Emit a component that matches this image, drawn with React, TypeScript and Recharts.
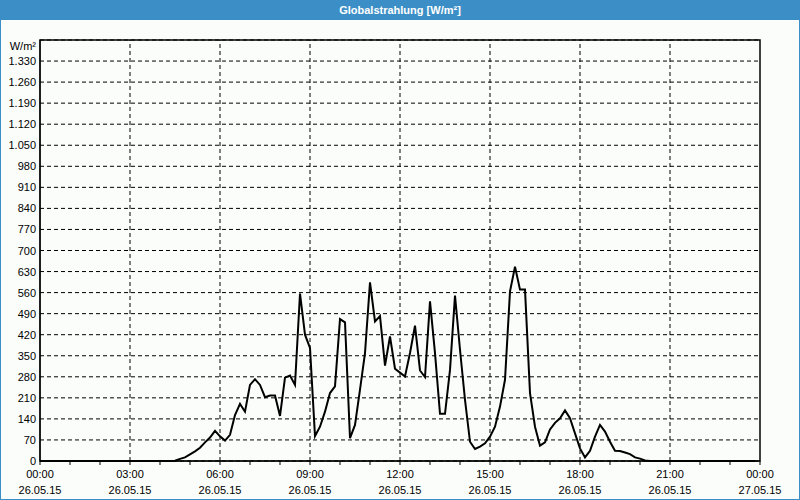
import React from "react";
import {
  LineChart,
  Line,
  XAxis,
  YAxis,
  CartesianGrid,
  ReferenceLine,
  ReferenceArea,
} from "recharts";

// Globalstrahlung, 10-Minuten-Werte 26.05.15 00:00 .. 23:50
const radiation = [
  0, 0, 0, 0, 0, 0, 0, 0, 0, 0, 0, 0, 0, 0, 0, 0, 0, 0, 0, 0, 0, 0, 0, 0, 0, 0, 0,
  1, 7, 12, 22, 32, 44, 62, 78, 100, 82, 68, 87, 153, 190, 164, 253, 272, 253, 212,
  218, 218, 150, 277, 284, 253, 557, 420, 376, 83, 114, 164, 226, 248, 472, 461, 76,
  120, 237, 359, 594, 464, 482, 317, 414, 307, 294, 281, 359, 450, 301, 279, 531,
  359, 157, 157, 303, 550, 370, 203, 64, 40, 48, 59, 81, 114, 181, 270, 564, 646,
  570, 570, 226, 114, 51, 62, 105, 127, 142, 168, 142, 92, 42, 12, 34, 81, 120, 98,
  64, 34, 33, 28, 23, 12, 8, 2, 0, 0, 0, 0, 0, 0, 0, 0, 0, 0, 0, 0, 0, 0, 0, 0, 0,
  0, 0, 0, 0, 0,
];

const STEP_MIN = 10;
const hourTicks = [0, 1, 2, 3, 4, 5, 6, 7, 8, 9, 10, 11, 12, 13, 14, 15, 16, 17, 18, 19, 20, 21, 22, 23, 24];
const majorHours = [0, 3, 6, 9, 12, 15, 18, 21, 24];
const timeLabels = ["00:00", "03:00", "06:00", "09:00", "12:00", "15:00", "18:00", "21:00", "00:00"];
const dateLabels = ["26.05.15", "26.05.15", "26.05.15", "26.05.15", "26.05.15", "26.05.15", "26.05.15", "26.05.15", "27.05.15"];
const gridHours = [3, 6, 9, 12, 15, 18, 21];
const yTicks = [0, 70, 140, 210, 280, 350, 420, 490, 560, 630, 700, 770, 840, 910, 980, 1050, 1120, 1190, 1260, 1330, 1400];
const yMax = 1400;

const data = radiation.map((v, i) => ({ min: i * STEP_MIN, value: v }));

const FONT = "'Liberation Sans', Arial, sans-serif";

const fmt = (v: number) => String(v).replace(/\B(?=(\d{3})+(?!\d))/g, ".");

const XTick = ({ x, y, payload }: any) => {
  const idx = majorHours.indexOf(payload.value / 60);
  if (idx < 0) return <g />;
  return (
    <g>
      <text x={x} y={y} dy={11} textAnchor="middle" fontSize={11} fontFamily={FONT} fill="#000">
        {timeLabels[idx]}
      </text>
      <text x={x} y={y} dy={27} textAnchor="middle" fontSize={11} fontFamily={FONT} fill="#000">
        {dateLabels[idx]}
      </text>
    </g>
  );
};

const YTick = ({ x, y, payload }: any) => (
  <text
    x={x}
    y={y}
    dy={payload.value === yMax ? 10 : 4}
    textAnchor="end"
    fontSize={11}
    fontFamily={FONT}
    fill="#000"
  >
    {payload.value === yMax ? "W/m²" : fmt(payload.value)}
  </text>
);

export default function App() {
  return (
    <div style={{ position: "relative", width: 800, height: 500, background: "#fbfdfb", fontFamily: FONT }}>
      <style>{"body{margin:0}"}</style>
      <LineChart
        width={800}
        height={500}
        data={data}
        margin={{ top: 40, right: 40, bottom: 9, left: 0 }}
      >
        <CartesianGrid vertical={false} stroke="#000" strokeDasharray="4 3" />
        {gridHours.map((h) => (
          <ReferenceLine key={h} x={h * 60} stroke="#000" strokeDasharray="4 3" />
        ))}
        <XAxis
          dataKey="min"
          type="number"
          domain={[0, 1440]}
          ticks={hourTicks.map((h) => h * 60)}
          interval={0}
          height={30}
          tick={<XTick />}
          tickSize={4}
          tickMargin={2}
          stroke="#000"
        />
        <YAxis
          type="number"
          domain={[0, yMax]}
          ticks={yTicks}
          interval={0}
          width={40}
          tick={<YTick />}
          tickLine={false}
          tickSize={0}
          tickMargin={4}
          stroke="#000"
        />
        <ReferenceArea x1={0} x2={1440} y1={0} y2={yMax} fill="none" stroke="#000" strokeWidth={1.5} />
        <Line
          dataKey="value"
          type="linear"
          stroke="#000"
          strokeWidth={2}
          dot={false}
          isAnimationActive={false}
        />
      </LineChart>
      <div
        style={{
          position: "absolute",
          left: 0,
          top: 0,
          width: 800,
          height: 20,
          background: "#3c8fc6",
          color: "#fff",
          fontWeight: "bold",
          fontSize: 11,
          lineHeight: "20px",
          textAlign: "center",
        }}
      >
        Globalstrahlung [W/m²]
      </div>
      <div
        style={{
          position: "absolute",
          left: 0,
          top: 0,
          width: 800,
          height: 500,
          boxSizing: "border-box",
          border: "1px solid #3c8fc6",
          pointerEvents: "none",
        }}
      />
    </div>
  );
}
